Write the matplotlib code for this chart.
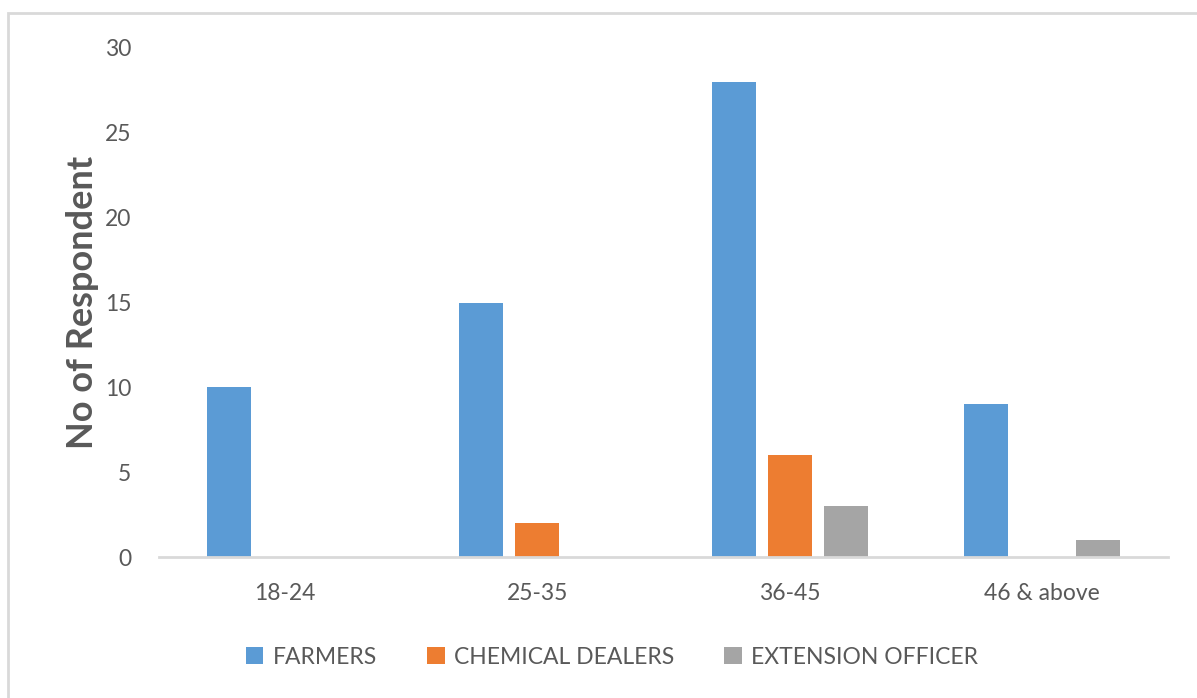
import matplotlib.pyplot as plt
from matplotlib.patches import Rectangle
import numpy as np

plt.rcParams['font.family'] = ['Lato', 'DejaVu Sans']

# age groups and respondent counts
age_groups = ['18-24', '25-35', '36-45', '46 & above']
farmers = [10, 15, 28, 9]
chemical_dealers = [0, 2, 6, 0]
extension_officers = [0, 0, 3, 1]

series = [
    ('FARMERS', farmers, '#5B9BD5'),
    ('CHEMICAL DEALERS', chemical_dealers, '#ED7D31'),
    ('EXTENSION OFFICER', extension_officers, '#A5A5A5'),
]

text_color = '#595959'
line_color = '#D9D9D9'

fig = plt.figure(figsize=(11.97, 6.98), dpi=100)
ax = fig.add_axes([159 / 1197, 141 / 698, (1168 - 159) / 1197, (557 - 48) / 698])

x = np.arange(len(age_groups))
width = 0.174
step = 0.222
for i, (name, vals, color) in enumerate(series):
    ax.bar(x + (i - 1) * step, vals, width, color=color, label=name, zorder=2)

ax.set_xlim(-0.5, len(age_groups) - 0.5)
ax.set_ylim(0, 30)
ax.set_yticks(range(0, 31, 5))
ax.set_xticks(x)
ax.set_xticklabels(age_groups)

for side in ['top', 'right', 'left']:
    ax.spines[side].set_visible(False)
ax.spines['bottom'].set_color(line_color)
ax.spines['bottom'].set_linewidth(2)

ax.tick_params(axis='both', length=0, colors=text_color, labelsize=16.5)
ax.tick_params(axis='y', pad=20)
ax.tick_params(axis='x', pad=19)

ax.set_ylabel('No of Respondent', fontsize=26, fontweight='bold',
              color=text_color, labelpad=4)

leg = fig.legend(loc='center', bbox_to_anchor=(612 / 1197, 41 / 698), ncol=3,
                 frameon=False, fontsize=16.5, handlelength=0.75, handleheight=0.75,
                 handletextpad=0.4, columnspacing=2.2)
for t in leg.get_texts():
    t.set_color(text_color)

# light outer frame of the chart area
fig.patches.append(Rectangle((8 / 1197, -0.1), 1.2, 0.1 + (698 - 13) / 698,
                             transform=fig.transFigure, fill=False,
                             edgecolor=line_color, linewidth=2))

fig.savefig('out.png', dpi=100)
